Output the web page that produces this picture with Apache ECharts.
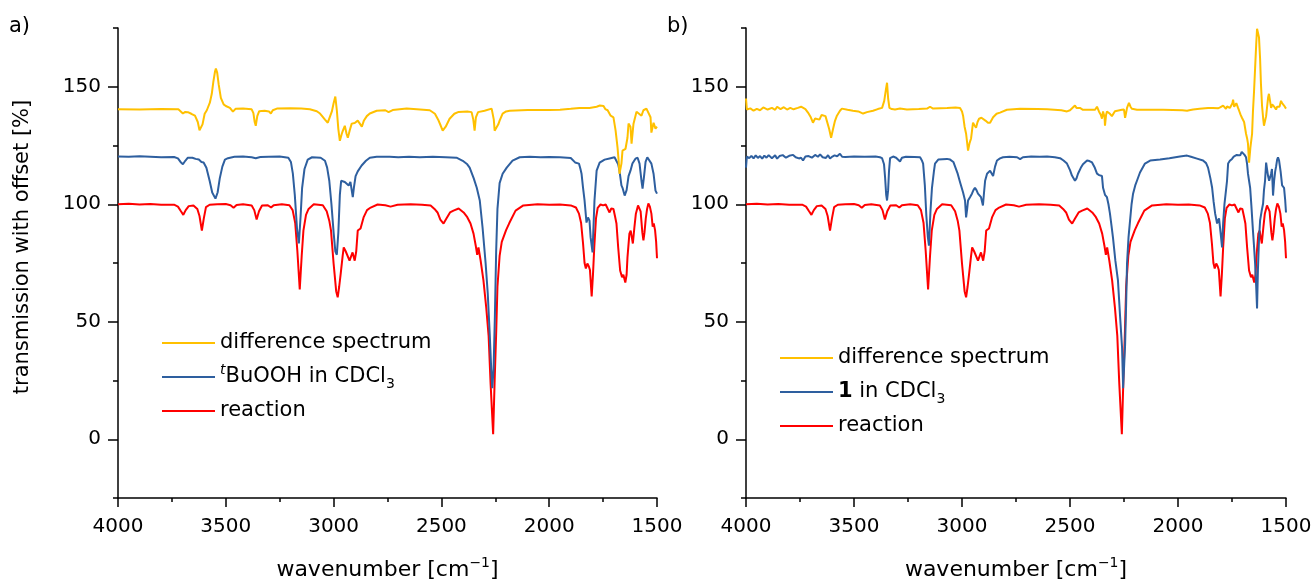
<!DOCTYPE html>
<html><head><meta charset="utf-8">
<script src="https://cdn.jsdelivr.net/npm/echarts@6/dist/echarts.min.js"></script>
<style>html,body{margin:0;padding:0;background:#fff}#c{width:1315px;height:582px}</style>
</head><body><div id="c"></div>
<script>
// ---- data (wavenumber [cm^-1], transmission with offset [%]) ----
const xRange = [1500, 4000];
const yRange = [-25, 175];
const yTickLabels = [0, 50, 100, 150];
const yMinorTicks = [-25, 25, 75, 125, 175];

const reaction = [[4000,100],[3950,100.2],[3900,99.9],[3850,100.1],[3800,99.8],[3740,99.8],[3722,99],[3708,97],[3697,95.5],[3686,97.5],[3672,99.2],[3650,99.5],[3632,98],[3622,95],[3611,88.8],[3602,94],[3592,98.8],[3575,99.8],[3540,100],[3500,100.1],[3478,99.6],[3464,98.5],[3450,99.7],[3420,100],[3380,99.5],[3368,97.5],[3357,93.5],[3346,97],[3332,99.5],[3305,99.6],[3290,98.6],[3278,99.6],[3240,100],[3205,99.6],[3190,97.5],[3178,92],[3168,80],[3157,63.7],[3148,78],[3140,88.8],[3128,95.5],[3116,98],[3092,100],[3050,99.6],[3032,97],[3020,93],[3012,88.8],[3000,74.8],[2988,63],[2981,60.4],[2974,65],[2967,70.5],[2958,78],[2953,81.6],[2944,80],[2935,79.5],[2926,76],[2918,78],[2912,79.5],[2902,76],[2895,80],[2888,88.8],[2875,89.7],[2861,94.4],[2845,97.5],[2828,98.6],[2796,99.9],[2760,99.6],[2736,99],[2703,99.8],[2643,100],[2590,99.8],[2550,99.5],[2532,98],[2518,96.5],[2505,93.5],[2490,91.8],[2476,94],[2460,96.5],[2444,97.3],[2420,98.2],[2397,96.5],[2380,94.5],[2365,91.8],[2351,87.5],[2340,82],[2334,78.5],[2328,81.6],[2318,76],[2305,67.6],[2292,56],[2281,44],[2272,24],[2260,2.1],[2253,25],[2246,45],[2240,65],[2230,78],[2220,84],[2200,89],[2185,92],[2156,97.3],[2120,99.5],[2054,100],[2000,99.8],[1950,99.9],[1900,99.5],[1876,98.6],[1862,96],[1852,92],[1843,83.3],[1836,75],[1830,72.7],[1823,74.8],[1816,73.5],[1811,72],[1803,60.8],[1797,70],[1791,81.6],[1783,94],[1775,98.5],[1762,99.9],[1750,99.5],[1738,99.9],[1728,98],[1720,96.5],[1712,98.2],[1702,98],[1695,95],[1688,91.8],[1680,81.6],[1671,71.8],[1662,68.9],[1656,70],[1647,66.7],[1641,70],[1637,77.3],[1628,87.5],[1622,88.8],[1617,86],[1612,83.3],[1605,90],[1598,96],[1588,99.5],[1582,99],[1576,97],[1568,88],[1563,84.6],[1558,88],[1552,94],[1546,98],[1540,100.3],[1533,99],[1526,96],[1520,90.5],[1515,91.8],[1509,89],[1504,84],[1500,77]];

const tBuOOH = [[4000,120.3],[3950,120.2],[3900,120.4],[3850,120.2],[3800,120],[3740,120.1],[3722,119.5],[3710,118],[3699,117],[3688,118.5],[3676,119.8],[3655,119.8],[3640,119.3],[3625,119],[3613,118],[3603,117.8],[3590,115.5],[3575,110],[3563,105],[3548,102.4],[3538,105],[3528,111],[3516,116],[3504,119],[3490,119.6],[3460,120.2],[3420,120.3],[3380,120],[3361,119.6],[3340,120.1],[3300,120.2],[3250,120.3],[3210,119.8],[3198,118],[3189,113],[3180,104],[3170,90],[3161,83.3],[3153,95],[3146,107],[3135,115],[3120,119],[3100,120],[3060,119.8],[3040,118.5],[3030,115.6],[3020,110],[3010,100],[3000,88],[2992,80],[2985,78.5],[2978,88],[2971,104],[2965,110],[2957,110.5],[2948,109.5],[2939,109],[2930,108],[2922,109.5],[2916,109],[2911,103],[2906,107],[2898,112],[2888,114],[2870,116.5],[2850,118.5],[2832,119.8],[2800,120.2],[2740,120.2],[2700,120],[2650,120.2],[2600,120],[2540,120.2],[2480,120],[2430,119.8],[2401,118.5],[2380,117],[2369,115.6],[2350,111],[2336,107],[2322,101.6],[2309,90],[2295,75],[2285,62],[2276,45],[2268,28],[2264,21.7],[2258,30],[2252,52],[2246,80],[2240,98],[2230,109],[2216,113],[2197,115.6],[2170,118.6],[2137,120],[2090,120.2],[2040,120],[2000,120.1],[1950,120],[1900,119.7],[1880,117.8],[1862,117.3],[1855,115],[1850,113],[1843,107],[1836,101.6],[1827,92.2],[1820,94.4],[1813,93],[1808,86],[1799,79.5],[1790,101.6],[1780,114.3],[1766,117.7],[1743,119],[1720,119.5],[1697,120],[1688,119.5],[1680,117],[1674,114.3],[1665,108],[1660,107],[1650,103.7],[1641,106],[1632,112],[1623,114.3],[1614,117.3],[1600,119.4],[1590,119.8],[1581,117.3],[1572,110],[1567,106.7],[1560,112],[1553,118],[1545,120],[1538,119.7],[1526,117.3],[1516,113],[1507,105.8],[1500,104.5]];

const diffA = [[4000,140.4],[3900,140.3],[3800,140.5],[3720,140.4],[3699,138.6],[3688,139.3],[3676,139.2],[3660,138.5],[3643,137.7],[3630,135],[3622,131.5],[3615,130.9],[3608,134],[3598,138.5],[3588,140],[3574,143.2],[3565,147],[3558,152],[3550,156.5],[3546,157.7],[3540,156],[3533,151],[3523,145.3],[3510,142.5],[3500,141.8],[3481,141],[3467,139.4],[3455,140.6],[3420,140.7],[3380,140.4],[3372,138.8],[3366,135],[3361,133.4],[3354,137.5],[3345,139.6],[3320,139.8],[3300,139.5],[3291,138.6],[3282,140],[3263,140.7],[3200,140.8],[3150,140.7],[3110,140.4],[3078,139.6],[3063,138.6],[3055,137.7],[3040,136],[3027,134.7],[3018,134.7],[3008,139.5],[3000,143],[2992,145.8],[2985,140],[2978,132],[2971,127],[2962,130],[2957,131.3],[2948,133.4],[2940,130],[2934,128.3],[2925,131.5],[2916,134.3],[2902,134.6],[2888,135.6],[2876,134],[2869,133],[2860,135.5],[2846,137.5],[2832,138.6],[2800,139.8],[2760,140],[2745,139.2],[2726,140.1],[2661,140.7],[2614,140.4],[2554,140],[2530,138.5],[2515,136],[2503,133.4],[2494,131.3],[2480,133],[2462,136.4],[2440,138.5],[2420,139.3],[2380,139.5],[2360,139.2],[2352,136],[2346,131.3],[2340,137],[2330,139.2],[2300,139.8],[2267,140.7],[2262,141],[2257,136],[2253,131.3],[2244,131.3],[2236,134],[2230,135.6],[2216,138.6],[2200,139.5],[2183,139.8],[2100,140.1],[2000,140.1],[1950,140.2],[1900,140.6],[1860,141],[1813,141],[1780,141.5],[1765,142],[1757,142.4],[1748,141.8],[1740,140.5],[1729,140],[1715,137.7],[1702,137],[1692,131.3],[1683,124.1],[1678,118.6],[1674,113],[1665,117.3],[1660,122.8],[1646,123.6],[1637,128.3],[1632,134.3],[1623,133],[1618,125.8],[1609,134.3],[1595,139.4],[1586,139],[1572,137.7],[1563,140],[1549,140.7],[1540,140.4],[1530,137],[1526,130.5],[1516,134.7],[1507,132.2],[1500,133]];

const cpd1 = [[4000,115.6],[3996,120.3],[3985,119.6],[3975,120.6],[3965,119.5],[3955,120.8],[3945,119.7],[3935,120.5],[3925,119.4],[3915,120.7],[3905,119.8],[3895,120.9],[3880,119.6],[3865,120.8],[3856,119.4],[3845,120.5],[3830,120.9],[3815,119.8],[3800,120.6],[3782,121],[3770,120],[3755,119.5],[3745,119.8],[3736,118.6],[3725,120.3],[3710,120.5],[3695,119.8],[3680,121],[3667,120.2],[3657,121.2],[3645,120],[3630,119.7],[3620,120.9],[3611,119.5],[3600,120.3],[3590,120.8],[3578,120.4],[3565,121.5],[3555,120.2],[3540,120.1],[3500,120.3],[3450,120.2],[3400,120.3],[3380,120],[3370,119.6],[3361,117],[3356,111.3],[3351,104],[3347,101.6],[3342,106],[3338,114],[3333,119.6],[3319,120.3],[3305,119.8],[3296,120],[3287,118.2],[3278,119.8],[3260,120.2],[3220,120.1],[3194,120],[3185,118.5],[3180,117.3],[3172,108],[3165,95],[3158,86],[3153,82.4],[3146,97],[3139,107],[3130,114],[3125,117.3],[3110,119],[3102,119.5],[3070,119.3],[3055,119],[3040,118],[3032,117.5],[3020,113],[3009,109.4],[2995,105],[2986,101.6],[2981,94.4],[2976,98],[2972,101.6],[2963,103],[2954,104.5],[2947,106],[2940,107],[2933,106],[2926,104.5],[2917,104.5],[2912,103],[2907,102.4],[2903,99.5],[2898,105],[2893,110],[2884,113],[2870,114.3],[2862,113],[2856,112],[2847,116],[2838,118.6],[2824,119.5],[2810,120],[2780,120.2],[2745,120],[2731,119.2],[2718,120],[2680,120.3],[2640,120.2],[2606,120.3],[2570,120],[2546,119.6],[2530,118.6],[2514,117.3],[2500,114.5],[2491,112.2],[2477,110],[2470,111],[2463,113],[2450,115.5],[2440,117],[2421,118.6],[2410,118.4],[2398,117.8],[2385,115.5],[2375,113],[2365,112.4],[2352,112],[2347,107],[2338,104],[2329,103],[2322,100],[2315,96],[2308,91],[2301,85.8],[2290,76],[2278,67.6],[2268,52],[2259,39],[2254,21.7],[2249,32],[2245,40],[2240,58],[2236,74.8],[2229,86],[2222,93],[2215,100],[2208,104.5],[2198,108],[2190,110],[2176,113.5],[2153,117.3],[2129,118.6],[2083,119],[2040,119.6],[1991,120.3],[1958,120.7],[1940,120.2],[1912,119.4],[1884,118.6],[1870,117.5],[1861,115.6],[1850,111],[1842,107],[1835,101],[1828,96],[1819,91.8],[1815,93],[1810,94],[1803,88],[1796,81.6],[1791,92],[1785,100],[1778,105.8],[1773,110],[1768,117.3],[1760,118.5],[1750,119.3],[1742,120.3],[1736,120],[1728,121],[1722,121.5],[1712,120.8],[1705,122.3],[1699,122],[1692,121],[1685,120],[1680,117],[1676,113],[1671,110],[1666,107],[1660,99],[1653,88.8],[1648,82],[1643,74.8],[1638,65],[1634,55.7],[1630,72],[1625,85],[1620,93],[1613,97],[1606,100.3],[1602,106],[1597,110],[1592,117.7],[1588,115],[1583,112],[1578,110],[1574,109.4],[1569,113],[1565,115],[1560,103.7],[1555,110],[1550,114],[1546,116],[1541,119],[1537,120],[1532,118.6],[1525,114],[1518,108],[1514,108.5],[1509,107],[1504,102],[1500,96.5]];

const diffB = [[4000,145],[3996,140.3],[3980,140.8],[3965,139.8],[3950,140.6],[3935,140],[3920,141.2],[3900,140.3],[3880,141],[3865,140.2],[3856,141.5],[3840,140.5],[3825,141.3],[3810,140.3],[3795,141],[3780,140.4],[3760,141],[3745,141.5],[3736,141.5],[3725,140.5],[3713,139],[3700,137],[3690,134.7],[3680,136.5],[3671,137],[3660,136],[3650,138],[3643,137.5],[3632,137.5],[3625,136.8],[3615,132],[3606,128.3],[3597,132],[3588,135.5],[3579,137.7],[3565,139.8],[3556,140.7],[3530,140.2],[3505,139.8],[3480,139.5],[3458,138.6],[3440,139.2],[3412,139.8],[3390,140.5],[3370,141],[3360,144],[3352,149],[3347,151.7],[3342,145],[3336,141],[3325,140.5],[3310,140.3],[3287,140.7],[3255,140.3],[3200,140.5],[3162,140.7],[3148,141.5],[3134,140.7],[3069,141],[3030,141.2],[3009,141],[3000,139.5],[2995,137.7],[2988,133],[2981,130],[2972,122.8],[2965,126],[2958,128],[2949,134.7],[2942,133.5],[2935,132.6],[2928,135],[2921,136.4],[2910,136.8],[2903,136.8],[2890,135.5],[2880,134.7],[2870,134.7],[2856,137],[2840,138.5],[2824,139],[2792,140.2],[2731,140.6],[2650,140.5],[2606,140.4],[2540,140],[2514,139.5],[2500,140],[2491,140.5],[2477,142],[2470,141],[2463,140.8],[2454,141],[2440,140.2],[2384,140.2],[2375,141.5],[2366,139.5],[2357,138],[2352,136.4],[2347,139.5],[2340,137],[2338,133.4],[2333,138],[2329,139.5],[2315,138.5],[2306,137.5],[2301,136.8],[2292,139.6],[2260,140.2],[2250,140.3],[2245,136.8],[2240,139],[2236,141],[2227,143.2],[2220,141.5],[2213,140.6],[2190,140.2],[2069,140.2],[1980,140],[1958,139.8],[1954,139],[1948,140],[1930,140.3],[1900,140.6],[1861,141],[1838,141],[1815,140.8],[1805,141.2],[1791,142],[1778,140.6],[1773,141.6],[1768,142.4],[1760,141],[1754,141.2],[1748,143],[1745,144.5],[1740,141.5],[1736,141.5],[1730,143],[1727,143],[1722,141],[1717,139.8],[1710,138],[1704,136.8],[1694,135],[1685,130],[1680,128],[1676,125.8],[1671,117.7],[1665,124],[1657,130],[1653,139.5],[1648,148],[1643,158],[1638,168],[1634,174.7],[1630,174],[1625,171],[1620,162],[1616,151.3],[1611,142],[1606,136.8],[1602,133.4],[1597,134],[1592,137.5],[1588,141],[1583,145.3],[1579,147],[1574,144],[1569,141],[1564,142.5],[1560,142],[1553,141.3],[1546,140.3],[1541,141.5],[1537,142],[1530,141.5],[1523,144],[1518,143],[1514,143.2],[1509,142],[1504,141.5],[1500,140.7]];

const legendA = ['difference spectrum', '{sup|t}BuOOH in CDCl{sub|3}', 'reaction'];
const legendB = ['difference spectrum', '{b|1} in CDCl{sub|3}', 'reaction'];
const panelLabels = ['a)', 'b)'];
const xTitle = 'wavenumber [cm{sup|\u22121}]';
const yTitle = 'transmission with offset [%]';

// ---- styles ----
const FONT = 'DejaVu Sans';
const C_Y = '#FFC000', C_B = '#2E5F9F', C_R = '#FF0000';
const chart = echarts.init(document.getElementById('c'), null, {renderer: 'canvas'});

const richLegend = {
  sup: {fontSize: 14, fontStyle: 'italic', fontFamily: FONT, color: '#000', verticalAlign: 'top', lineHeight: 14},
  sub: {fontSize: 14, fontFamily: FONT, color: '#000', verticalAlign: 'bottom', lineHeight: 14},
  b: {fontSize: 21, fontWeight: 'bold', fontFamily: FONT, color: '#000', lineHeight: 28}
};

function xAxis(gi) {
  return {
    gridIndex: gi, type: 'value', min: xRange[0], max: xRange[1], interval: 500, inverse: true,
    axisLine: {show: true, onZero: false, lineStyle: {color: '#000', width: 1.5}},
    axisTick: {show: true, length: 9, lineStyle: {color: '#000', width: 1.5}},
    minorTick: {show: true, splitNumber: 2, length: 4, lineStyle: {color: '#000', width: 1.5}},
    splitLine: {show: false},
    axisLabel: {fontSize: 20, fontFamily: FONT, color: '#000', margin: 19, formatter: v => String(v)},
    name: xTitle, nameLocation: 'middle', nameGap: 58,
    nameTextStyle: {fontSize: 22, fontFamily: FONT, color: '#000', lineHeight: 28,
      rich: {sup: {fontSize: 14, fontFamily: FONT, color: '#000', verticalAlign: 'top', lineHeight: 14}}}
  };
}
function yAxisMain(gi, withName) {
  return {
    gridIndex: gi, type: 'value', min: yRange[0], max: yRange[1], position: 'left',
    axisLine: {show: true, onZero: false, lineStyle: {color: '#000', width: 1.5}},
    axisTick: {show: true, length: 10, customValues: yTickLabels, lineStyle: {color: '#000', width: 1.5}},
    splitLine: {show: false},
    axisLabel: {fontSize: 20, fontFamily: FONT, color: '#000', margin: 17, customValues: yTickLabels},
    name: withName ? yTitle : '', nameLocation: 'middle', nameGap: 85,
    nameTextStyle: {fontSize: 21, fontFamily: FONT, color: '#000', padding: [0, 0, 0, 32]}
  };
}
function yAxisMinor(gi) {
  return {
    gridIndex: gi, type: 'value', min: yRange[0], max: yRange[1], position: 'left',
    axisLine: {show: false},
    axisTick: {show: true, length: 5, customValues: yMinorTicks, lineStyle: {color: '#000', width: 1.5}},
    splitLine: {show: false},
    axisLabel: {show: false}
  };
}
function line(name, data, color, xi, yi) {
  return {
    name: name, type: 'line', data: data, xAxisIndex: xi, yAxisIndex: yi,
    symbol: 'none', showSymbol: false, smooth: false, animation: false,
    lineStyle: {color: color, width: 2}, itemStyle: {color: color}
  };
}
function legend(names, labels, left, top) {
  const map = {};
  names.forEach((n, i) => map[n] = labels[i]);
  return {
    data: names, orient: 'vertical', left: left, top: top, itemWidth: 53, itemHeight: 14, itemGap: 6,
    selectedMode: false, icon: 'path://M0,6 L53,6 L53,8 L0,8 Z',
    formatter: n => map[n],
    textStyle: {fontSize: 21, fontFamily: FONT, color: '#000', lineHeight: 28, rich: richLegend}
  };
}

const option = {
  backgroundColor: '#fff',
  animation: false,
  title: [
    {text: panelLabels[0], left: 4, top: 11, textStyle: {fontSize: 21, fontWeight: 'normal', fontFamily: FONT, color: '#000'}},
    {text: panelLabels[1], left: 662, top: 11, textStyle: {fontSize: 21, fontWeight: 'normal', fontFamily: FONT, color: '#000'}}
  ],
  grid: [
    {left: 118, top: 28, width: 539, height: 470, containLabel: false, outerBoundsMode: 'none'},
    {left: 746, top: 28, width: 540, height: 470, containLabel: false, outerBoundsMode: 'none'}
  ],
  xAxis: [xAxis(0), xAxis(1)],
  yAxis: [yAxisMain(0, true), yAxisMinor(0), yAxisMain(1, false), yAxisMinor(1)],
  legend: [
    legend(['diffA', 'tBuOOH', 'reactionA'], legendA, 157, 324),
    legend(['diffB', 'cpd1', 'reactionB'], legendB, 775, 339)
  ],
  series: [
    line('reactionA', reaction, C_R, 0, 0),
    line('tBuOOH', tBuOOH, C_B, 0, 0),
    line('diffA', diffA, C_Y, 0, 0),
    line('reactionB', reaction, C_R, 1, 2),
    line('cpd1', cpd1, C_B, 1, 2),
    line('diffB', diffB, C_Y, 1, 2)
  ]
};
chart.setOption(option);
</script>
</body></html>
